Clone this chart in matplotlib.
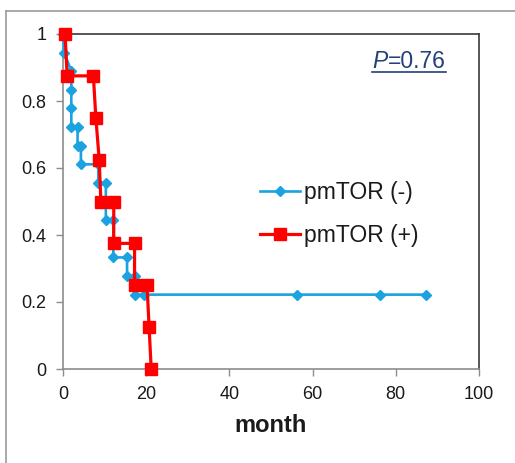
import matplotlib
matplotlib.use("Agg")
import matplotlib.pyplot as plt
from matplotlib.lines import Line2D
from matplotlib.ticker import FuncFormatter

plt.rcParams["font.family"] = ["Liberation Sans", "DejaVu Sans"]

# ── Data (Kaplan-Meier step vertices) ─────────────────────────────────────────
neg_label = "pmTOR (-)"
neg_month = [0, 0.3, 2, 2, 2, 2, 3.5, 3.5, 4.3, 4.3, 8.5, 8.5, 10.3, 10.3,
             12.1, 12.1, 15.4, 15.4, 17.3, 17.3, 19.4, 56.3, 76.2, 87.2]
neg_surv = [1.0, 0.944, 0.889, 0.833, 0.778, 0.722, 0.722, 0.667, 0.667, 0.611,
            0.611, 0.556, 0.556, 0.444, 0.444, 0.333, 0.333, 0.278, 0.278, 0.222,
            0.222, 0.222, 0.222, 0.222]

pos_label = "pmTOR (+)"
pos_month = [0.5, 1.0, 7.3, 7.9, 8.7, 9.1, 12.2, 12.2, 17.2, 17.2, 20.2, 20.7, 21.2]
pos_surv = [1.0, 0.875, 0.875, 0.75, 0.625, 0.5, 0.5, 0.375, 0.375, 0.25,
            0.25, 0.125, 0.0]

x_ticks = [0, 20, 40, 60, 80, 100]
y_ticks = [0, 0.2, 0.4, 0.6, 0.8, 1.0]
p_text = "=0.76"

BLUE = "#1aa3e0"
RED = "#ff0000"
NAVY = "#23407a"

W, H = 515, 463
fig = plt.figure(figsize=(W / 100, H / 100), dpi=100)
fig.patch.set_facecolor("white")

# outer chart frame
fx, fy = 6 / W, 1 - 11 / H
fig.add_artist(Line2D([fx, fx], [-0.01, fy], transform=fig.transFigure,
                      color="#9a9a9a", lw=1.2))
fig.add_artist(Line2D([fx, 1.01], [fy, fy], transform=fig.transFigure,
                      color="#9a9a9a", lw=1.2))

ax = fig.add_axes([63 / W, 94 / H, 416 / W, 335 / H])

ax.plot(neg_month, neg_surv, color=BLUE, lw=1.9, marker="D", ms=5.5,
        mec=BLUE, mfc=BLUE, label=neg_label, clip_on=False, zorder=3)
ax.plot(pos_month, pos_surv, color=RED, lw=2.3, marker="s", ms=8.5,
        mec=RED, mfc=RED, label=pos_label, clip_on=False, zorder=4)

ax.set_xlim(0, 100)
ax.set_ylim(0, 1)
ax.set_xticks(x_ticks)
ax.set_yticks(y_ticks)
ax.yaxis.set_major_formatter(FuncFormatter(lambda v, _: f"{v:g}"))

for side in ["left", "bottom"]:
    ax.spines[side].set_color("#8c8c8c")
    ax.spines[side].set_linewidth(1.2)
for side in ["top", "right"]:
    ax.spines[side].set_color("#3a3a3a")
    ax.spines[side].set_linewidth(1.2)

ax.tick_params(axis="both", direction="out", length=5, width=1.0,
               color="#8c8c8c", labelcolor="#1a1a1a", labelsize=13, pad=7)

ax.set_xlabel("month", fontsize=17, fontweight="bold", color="#1a1a1a", labelpad=8)

leg = ax.legend(loc="upper left", bbox_to_anchor=(0.474, 0.56), frameon=False,
                fontsize=16.5, handlelength=1.75, handletextpad=0.15,
                labelspacing=0.85, borderpad=0, borderaxespad=0, numpoints=1)
for t in leg.get_texts():
    t.set_color("#1a1a1a")

# P value, italic P followed by the number, underlined
p_x = (372 - 63) / 416
p_y = (369 - 61) / 335
p_lbl = ax.text(p_x, p_y, "P", transform=ax.transAxes, fontsize=16.5, color=NAVY,
                style="italic", ha="left", va="center")
fig.canvas.draw()
bb = p_lbl.get_window_extent().transformed(ax.transAxes.inverted())
v_lbl = ax.text(bb.x1 + 0.001, p_y, p_text, transform=ax.transAxes, fontsize=16.5,
                color=NAVY, ha="left", va="center")
fig.canvas.draw()
bb2 = v_lbl.get_window_extent().transformed(ax.transAxes.inverted())
uy = (369 - 72) / 335
ax.add_line(Line2D([p_x, bb2.x1], [uy, uy], transform=ax.transAxes,
                   color=NAVY, lw=1.2))

fig.savefig("out.png", dpi=100, facecolor="white")
